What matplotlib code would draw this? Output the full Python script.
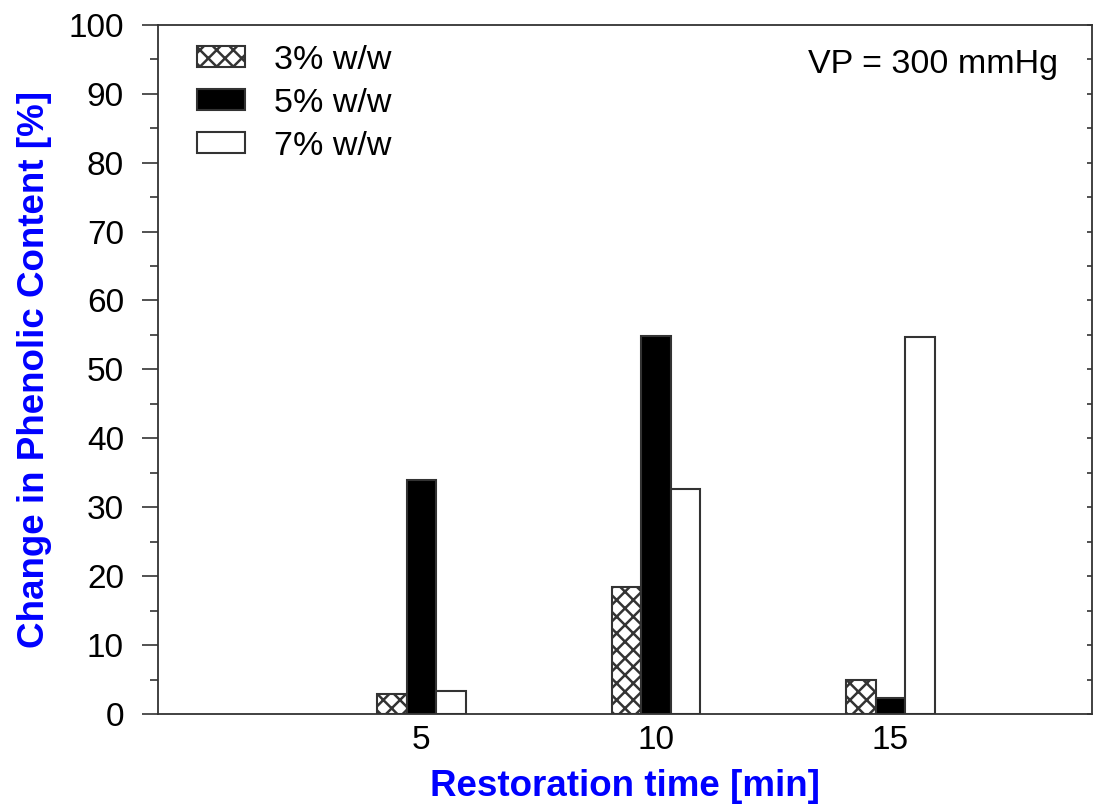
import numpy as np
import matplotlib.pyplot as plt
from matplotlib.ticker import MultipleLocator

plt.rcParams["font.family"] = ["Liberation Sans", "DejaVu Sans"]
plt.rcParams["hatch.linewidth"] = 1.8

# Donnees
temps = [5, 10, 15]
conc_3 = [2.9, 18.4, 5.0]
conc_5 = [34.0, 54.9, 2.3]
conc_7 = [3.4, 32.7, 54.7]
labels = ["3% w/w", "5% w/w", "7% w/w"]

x = np.array(temps, dtype=float)
w = 0.63

fig = plt.figure(figsize=(10.97, 8.09), dpi=100)
ax = fig.add_axes([0.144, 0.1174, 0.8514, 0.852])

edge = "#333333"
ax.bar(x - w, conc_3, width=w, color="white", edgecolor=edge, hatch="xx",
       linewidth=1.5, label=labels[0])
ax.bar(x, conc_5, width=w, color="black", edgecolor=edge,
       linewidth=1.5, label=labels[1])
ax.bar(x + w, conc_7, width=w, color="white", edgecolor=edge,
       linewidth=1.5, label=labels[2])

ax.set_xlim(-0.62, 19.3)
ax.set_ylim(0, 100)
ax.set_xticks(temps)
ax.yaxis.set_major_locator(MultipleLocator(10))
ax.yaxis.set_minor_locator(MultipleLocator(5))

for s in ax.spines.values():
    s.set_linewidth(1.3)
    s.set_color(edge)

ax.tick_params(axis="x", length=0, labelsize=24, pad=8)
ax.tick_params(axis="y", which="major", direction="out", length=11.5,
               width=1.2, color=edge, labelsize=24, pad=13)
ax.tick_params(axis="y", which="minor", direction="out", length=5.8,
               width=1.2, color=edge)

# petits tics vers l'interieur sur l'axe de droite
ax2 = ax.twinx()
ax2.set_ylim(0, 100)
ax2.yaxis.set_major_locator(MultipleLocator(10))
ax2.yaxis.set_minor_locator(MultipleLocator(5))
ax2.tick_params(axis="y", which="both", direction="in", length=3.6,
                width=1.2, color=edge, labelright=False)
for s in ax2.spines.values():
    s.set_visible(False)

ax.set_xlabel("Restoration time [min]", color="blue", fontsize=26.5,
              fontweight="bold", labelpad=9)
ax.set_ylabel("Change in Phenolic Content [%]", color="blue", fontsize=26.5,
              fontweight="bold", labelpad=12)

ax.text(0.9636, 0.942, "VP = 300 mmHg", transform=ax.transAxes,
        ha="right", va="center", fontsize=24.5)

ax.legend(loc="upper left", bbox_to_anchor=(0.042, 0.971), frameon=False,
          fontsize=24.5, handlelength=1.4, handleheight=0.55,
          handletextpad=0.85, labelspacing=0.35, borderpad=0,
          borderaxespad=0)

plt.savefig("out.png", dpi=100)
